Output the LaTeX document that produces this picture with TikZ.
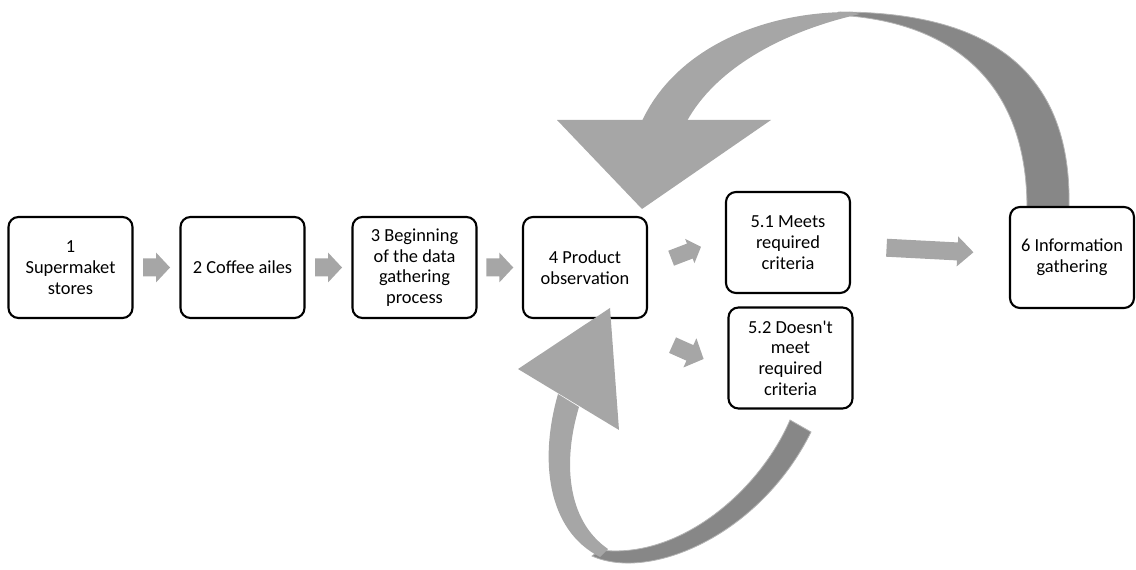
\documentclass[tikz,border=0pt]{standalone}
\usepackage{fontspec}
\setmainfont{Carlito}[Ligatures=TeXOff]
\usetikzlibrary{calc}
\definecolor{ribbonlight}{HTML}{A6A6A6}
\definecolor{ribbondark}{HTML}{878787}
\definecolor{ribbonedge}{HTML}{B4B4B4}

% straight block arrow: #1 centre, #2 angle, #3 length,
% #4 shaft half width, #5 head half width, #6 head length
\newcommand\blockarrow[6]{%
  \fill[ribbonlight, shift={#1}, rotate=#2]
    ({-#3/2},{-#4}) -- ({#3/2-#6},{-#4}) -- ({#3/2-#6},{-#5}) -- ({#3/2},0)
    -- ({#3/2-#6},{#5}) -- ({#3/2-#6},{#4}) -- ({-#3/2},{#4}) -- cycle;}

\begin{document}
\begin{tikzpicture}[x=0.75pt,y=-0.75pt,
  stepbox/.style={draw=black, line width=1.6pt, rounded corners=7.5pt, fill=white,
    minimum width=93pt, minimum height=75.75pt, inner sep=0pt, align=center,
    font=\fontsize{13.8pt}{15.5pt}\selectfont},
  darkband/.style={fill=ribbondark, draw=ribbonedge, line width=0.6pt},
  lightband/.style={fill=ribbonlight}]
\useasboundingbox (0,0) rectangle (1136,570);

% return loop from 6 back to 4 (upper ribbon)
\path[darkband]
  (840,12) .. controls (1000,12) and (1072,80) .. (1069,208)
  -- (1027,208) .. controls (1027,80) and (950,25) .. (850,16) -- cycle;
\path[lightband]
  (642,121) .. controls (675,50) and (760,12) .. (850,12) -- (860,14)
  .. controls (780,32) and (715,70) .. (687,121) -- cycle;

% return loop from 5.2 back to 4 (lower ribbon)
\path[darkband]
  (592,556) .. controls (650,582) and (760,535) .. (811,432)
  -- (790,420) .. controls (760,490) and (680,560) .. (600,550) -- cycle;
\path[lightband]
  (558,394) .. controls (539,460) and (547,530) .. (600,557)
  -- (608,549) .. controls (566,520) and (563,460) .. (579,407) -- cycle;

% process steps
\node[stepbox] (b1) at (70.5,267.5) {1\\Supermaket\\stores};
\node[stepbox] (b2) at (242.5,267.5) {2 Coffee ailes};
\node[stepbox] (b3) at (414.5,267.5) {3 Beginning\\of the data\\gathering\\process};
\node[stepbox] (b4) at (585,267.5) {4 Product\\observation};
\node[stepbox] (b51) at (788,242.5) {5.1 Meets\\required\\criteria};
\node[stepbox] (b52) at (790.5,358) {5.2 Doesn't\\meet\\required\\criteria};
\node[stepbox] (b6) at (1072,257.5) {6 Information\\gathering};

% arrowheads of the two loops
\fill[ribbonlight] (557,120) -- (771,120) -- (642,209) -- cycle;
\fill[ribbonlight] (518,369) -- (610,308) -- (619,430) -- cycle;

% forward steps
\blockarrow{($(b1.east)!.5!(b2.west)$)}{0}{27}{9}{15}{14}
\blockarrow{($(b2.east)!.5!(b3.west)$)}{0}{27}{9}{15}{14}
\blockarrow{($(b3.east)!.5!(b4.west)$)}{0}{27}{9}{15}{14}
\blockarrow{($(b4.east)+(38,-15)$)}{21}{32}{8}{13}{12}
\blockarrow{($(b4.south east)+(40,33)$)}{-24}{34}{8.5}{16}{15}
\blockarrow{($(b51.east)!.5!(b6.west)$)}{-3}{87}{9}{15}{16}
\end{tikzpicture}
\end{document}
